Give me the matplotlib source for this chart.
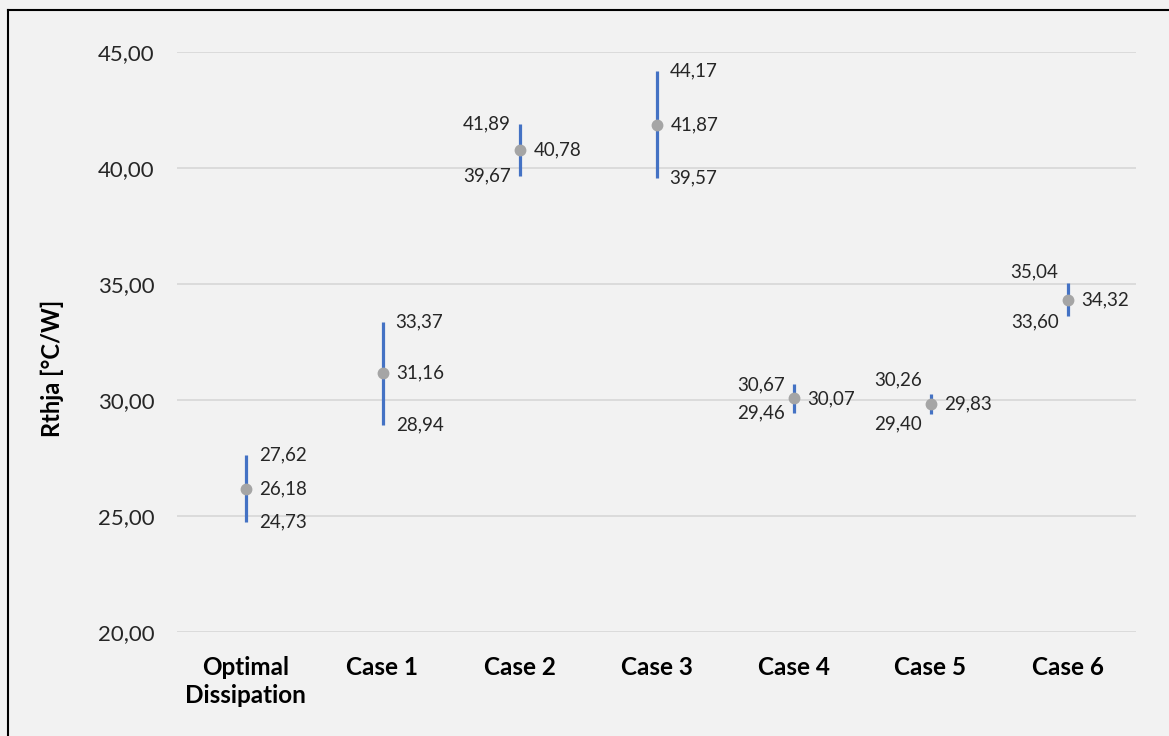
import matplotlib
matplotlib.use("Agg")
import matplotlib.pyplot as plt
from matplotlib.lines import Line2D

categories = ["Optimal\nDissipation", "Case 1", "Case 2", "Case 3", "Case 4", "Case 5", "Case 6"]
high = [27.62, 33.37, 41.89, 44.17, 30.67, 30.26, 35.04]
mid = [26.18, 31.16, 40.78, 41.87, 30.07, 29.83, 34.32]
low = [24.73, 28.94, 39.67, 39.57, 29.46, 29.40, 33.60]
# label side for high/low labels: 'right' or 'left'
hl_side = ["right", "right", "left", "right", "left", "left", "left"]
# vertical nudges (points) of the high / low labels, as placed in the original
high_nudge = [0, 0, 0, 0, 0, 10, 8]
low_nudge = [0, 0, 0, 0, 0, -7, -4]
yticks = [20, 25, 30, 35, 40, 45]

plt.rcParams['font.family'] = ['Lato', 'DejaVu Sans']

fig = plt.figure(figsize=(11.69, 7.36), dpi=100)
fig.patch.set_facecolor("#f2f2f2")
ax = fig.add_axes([177/1169, 1-632/736, (1136-177)/1169, (632-52)/736])
ax.set_facecolor("#f2f2f2")

x = list(range(len(categories)))
ax.vlines(x, low, high, color="#4472C4", lw=2.3, zorder=2)
ax.plot(x, mid, "o", color="#A5A5A5", ms=7.5, zorder=3)

def fmt(v):
    return f"{v:.2f}".replace(".", ",")

lab_kw = dict(fontsize=13.5, color="#262626", va="center")
for i in x:
    ax.annotate(fmt(mid[i]), (i, mid[i]), xytext=(10, 0), textcoords="offset points", ha="left", **lab_kw)
    if hl_side[i] == "right":
        dx, ha = 9.5, "left"
    else:
        dx, ha = -6.5, "right"
    ax.annotate(fmt(high[i]), (i, high[i]), xytext=(dx, high_nudge[i]), textcoords="offset points", ha=ha, **lab_kw)
    ax.annotate(fmt(low[i]), (i, low[i]), xytext=(dx, low_nudge[i]), textcoords="offset points", ha=ha, **lab_kw)

ax.set_xlim(-0.5, len(categories) - 0.5)
ax.set_ylim(20, 45)
ax.set_yticks(yticks)
ax.set_yticklabels([fmt(v) for v in yticks], fontsize=16, color="#262626")
ax.set_xticks(x)
ax.set_xticklabels(categories, fontsize=17.5, fontweight="bold", color="black", linespacing=1.3)
ax.tick_params(axis="both", length=0)
ax.tick_params(axis="y", pad=16)
ax.tick_params(axis="x", pad=17)
ax.grid(axis="y", color="#d9d9d9", lw=1.3)
ax.set_axisbelow(True)
for s in ax.spines.values():
    s.set_visible(False)

fig.text(52/1169, 0.5, "Rthja [°C/W]", rotation=90, fontsize=17, fontweight="bold",
         ha="center", va="center", color="black")

# outer border (left and top edges visible)
fig.add_artist(Line2D([7.5/1169, 7.5/1169], [0, 1-10/736], transform=fig.transFigure, color="black", lw=1.5))
fig.add_artist(Line2D([7.5/1169, 1], [1-10/736, 1-10/736], transform=fig.transFigure, color="black", lw=1.5))

fig.savefig("out.png", dpi=100, facecolor=fig.get_facecolor())
